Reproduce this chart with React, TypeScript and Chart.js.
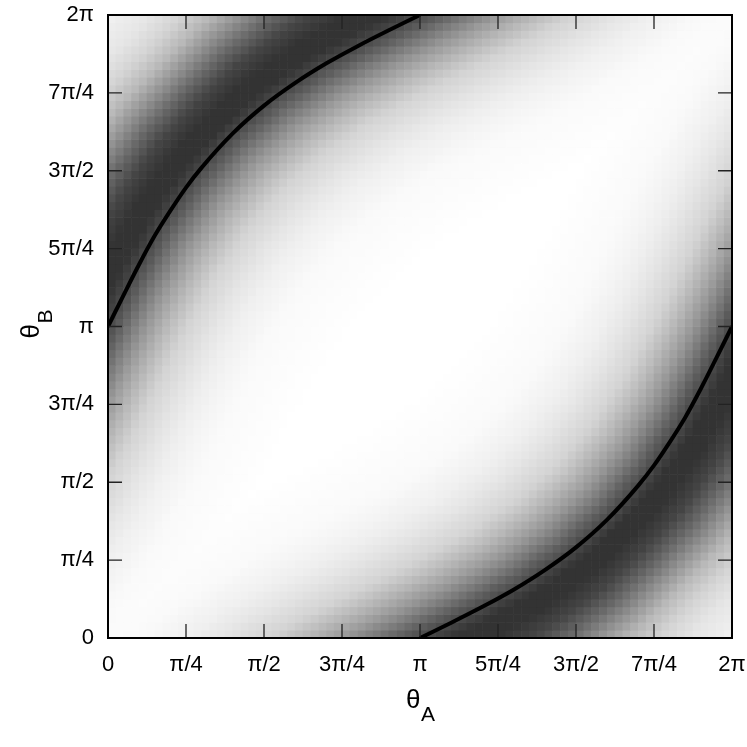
import React, { useEffect, useRef } from 'react';
import { Chart, registerables } from 'chart.js';

Chart.register(...registerables);

// Axis ticks (values in units of π)
const TICK_VALUES = [0, 0.25, 0.5, 0.75, 1, 1.25, 1.5, 1.75, 2];
const TICK_LABELS = ['0', 'π/4', 'π/2', '3π/4', 'π', '5π/4', '3π/2', '7π/4', '2π'];

// Black curves (θA, θB in units of π)
const UPPER_A = [0, 0.05, 0.1, 0.15, 0.2, 0.25, 0.3, 0.4, 0.5, 0.6, 0.7, 0.8, 0.9, 1.0];
const UPPER_B = [1.0, 1.101, 1.2, 1.292, 1.372, 1.446, 1.51, 1.62, 1.709, 1.782, 1.845, 1.9, 1.951, 2.0];
const LOWER_A = [1.0, 1.1, 1.2, 1.3, 1.4, 1.5, 1.6, 1.7, 1.75, 1.8, 1.85, 1.9, 1.95, 2.0];
const LOWER_B = [0.0, 0.049, 0.1, 0.155, 0.218, 0.291, 0.38, 0.49, 0.554, 0.628, 0.708, 0.8, 0.899, 1.0];

// Heat map: dark band centre, as v = θB − θA against u = θA + θB (units of π)
const BAND_U = [0, 0.25, 0.5, 0.75, 1, 1.25, 1.5, 1.75, 2, 2.25, 2.5, 2.75, 3, 3.25, 3.5, 3.75, 4];
const BAND_V = [0.78, 0.797, 0.844, 0.916, 1.0, 1.084, 1.156, 1.203, 1.22, 1.203, 1.156, 1.084, 1.0, 0.916, 0.844, 0.797, 0.78];
const BAND_OUTER_WIDTH = [1.1, 1.1, 1.1, 1.1, 1.1, 1.1, 1.06, 1.02, 0.98, 1.02, 1.06, 1.1, 1.1, 1.1, 1.1, 1.1, 1.1];
// grey level (0 black … 1 white) across the band, by distance from its centre
const PROFILE_DV = [-1.0, -0.7, -0.55, -0.46, -0.34, -0.25, -0.17, -0.1, -0.05, 0.0, 0.06, 0.14, 0.22, 0.3, 0.38, 0.46, 0.55, 0.65, 0.8, 1.0];
const PROFILE_GREY = [1.0, 0.98, 0.94, 0.9, 0.83, 0.72, 0.6, 0.47, 0.37, 0.29, 0.2, 0.2, 0.27, 0.41, 0.57, 0.72, 0.83, 0.9, 0.95, 0.97];
const GRID_N = 80;

const FONT = "'Liberation Sans', Arial, Helvetica, sans-serif";
const TICK_LEN = 14;

function lookup(xs: number[], ys: number[], x: number): number {
  if (x <= xs[0]) return ys[0];
  if (x >= xs[xs.length - 1]) return ys[ys.length - 1];
  let i = 1;
  while (xs[i] < x) i++;
  const t = (x - xs[i - 1]) / (xs[i] - xs[i - 1]);
  return ys[i - 1] + t * (ys[i] - ys[i - 1]);
}

function bandGrey(a: number, b: number): number {
  const u = a + b;
  const v = b - a;
  let dv = v - lookup(BAND_U, BAND_V, u);
  if (dv > 0) dv /= lookup(BAND_U, BAND_OUTER_WIDTH, u);
  return lookup(PROFILE_DV, PROFILE_GREY, dv);
}

function cellGrey(a: number, b: number): number {
  return Math.min(bandGrey(a, b), bandGrey(2 - a, 2 - b));
}

const cells: { x: number; y: number }[] = [];
const cellColors: string[] = [];
for (let j = 0; j < GRID_N; j++) {
  for (let i = 0; i < GRID_N; i++) {
    const a = ((i + 0.5) * 2) / GRID_N;
    const b = ((j + 0.5) * 2) / GRID_N;
    const g = Math.round(cellGrey(a, b) * 255);
    cells.push({ x: a, y: b });
    cellColors.push(`rgb(${g},${g},${g})`);
  }
}

const toPoints = (xs: number[], ys: number[]) => xs.map((x, i) => ({ x, y: ys[i] }));

const framePlugin = {
  id: 'frameAndTitles',
  afterDraw(chart: any) {
    const { ctx, chartArea: a } = chart;
    const xs = chart.scales.x;
    const ys = chart.scales.y;
    ctx.save();
    ctx.strokeStyle = '#222';
    ctx.lineWidth = 1.3;
    ctx.beginPath();
    TICK_VALUES.forEach((v) => {
      const px = xs.getPixelForValue(v);
      const py = ys.getPixelForValue(v);
      ctx.moveTo(px, a.bottom);
      ctx.lineTo(px, a.bottom - TICK_LEN);
      ctx.moveTo(px, a.top);
      ctx.lineTo(px, a.top + TICK_LEN);
      ctx.moveTo(a.left, py);
      ctx.lineTo(a.left + TICK_LEN, py);
      ctx.moveTo(a.right, py);
      ctx.lineTo(a.right - TICK_LEN, py);
    });
    ctx.stroke();
    ctx.strokeStyle = '#000';
    ctx.lineWidth = 2;
    ctx.strokeRect(a.left, a.top, a.right - a.left, a.bottom - a.top);

    // axis titles
    ctx.fillStyle = '#000';
    ctx.textAlign = 'left';
    ctx.textBaseline = 'alphabetic';
    const cx = (a.left + a.right) / 2;
    ctx.font = `26px ${FONT}`;
    ctx.fillText('θ', cx - 14, a.bottom + 70);
    ctx.font = `21px ${FONT}`;
    ctx.fillText('A', cx + 1, a.bottom + 83);

    const cy = (a.top + a.bottom) / 2;
    ctx.translate(a.left - 69, cy + 12);
    ctx.rotate(-Math.PI / 2);
    ctx.font = `26px ${FONT}`;
    ctx.fillText('θ', 0, 0);
    ctx.font = `21px ${FONT}`;
    ctx.fillText('B', 15, 13);
    ctx.restore();
  },
};

export default function App() {
  const canvasRef = useRef<HTMLCanvasElement | null>(null);

  useEffect(() => {
    const canvas = canvasRef.current;
    if (!canvas) return;
    const tickFont = { family: FONT, size: 22 };
    const chart = new Chart(canvas, {
      type: 'scatter',
      data: {
        datasets: [
          {
            label: 'upper',
            data: toPoints(UPPER_A, UPPER_B),
            showLine: true,
            borderColor: '#000',
            borderWidth: 4,
            pointRadius: 0,
            cubicInterpolationMode: 'monotone',
            fill: false,
            order: 0,
          } as any,
          {
            label: 'lower',
            data: toPoints(LOWER_A, LOWER_B),
            showLine: true,
            borderColor: '#000',
            borderWidth: 4,
            pointRadius: 0,
            cubicInterpolationMode: 'monotone',
            fill: false,
            order: 0,
          } as any,
          {
            label: 'density',
            data: cells,
            pointStyle: 'rect',
            backgroundColor: cellColors,
            pointBackgroundColor: cellColors,
            borderWidth: 0,
            pointBorderWidth: 0,
            pointRadius: (c: any) => {
              const ar = c.chart.chartArea;
              const cw = ar ? (ar.right - ar.left) / GRID_N : 7.8;
              return (cw / 2 + 0.3) / Math.SQRT1_2;
            },
            clip: 0,
            order: 1,
          } as any,
        ],
      },
      options: {
        responsive: false,
        animation: false,
        events: [],
        layout: { padding: { top: 15, right: 15, left: 0, bottom: 0 } },
        plugins: { legend: { display: false }, tooltip: { enabled: false } },
        scales: {
          x: {
            type: 'linear',
            min: 0,
            max: 2,
            grid: { display: false, drawTicks: false },
            border: { display: false },
            afterBuildTicks: (s: any) => {
              s.ticks = TICK_VALUES.map((v) => ({ value: v }));
            },
            afterFit: (s: any) => {
              s.height = 109;
              s.paddingLeft = 0;
              s.paddingRight = 0;
            },
            ticks: {
              autoSkip: false,
              maxRotation: 0,
              minRotation: 0,
              padding: 14,
              color: '#000',
              font: tickFont,
              callback: (v: any) => TICK_LABELS[TICK_VALUES.indexOf(Number(v))],
            },
          },
          y: {
            type: 'linear',
            min: 0,
            max: 2,
            grid: { display: false, drawTicks: false },
            border: { display: false },
            afterBuildTicks: (s: any) => {
              s.ticks = TICK_VALUES.map((v) => ({ value: v }));
            },
            afterFit: (s: any) => {
              s.width = 108;
              s.paddingTop = 0;
              s.paddingBottom = 0;
            },
            ticks: {
              autoSkip: false,
              padding: 14,
              color: '#000',
              font: tickFont,
              callback: (v: any) => TICK_LABELS[TICK_VALUES.indexOf(Number(v))],
            },
          },
        },
      } as any,
      plugins: [framePlugin],
    });
    return () => chart.destroy();
  }, []);

  return (
    <div style={{ position: 'fixed', left: 0, top: 0, width: 747, height: 747, background: '#fff' }}>
      <canvas ref={canvasRef} width={747} height={747} style={{ display: 'block' }} />
    </div>
  );
}
